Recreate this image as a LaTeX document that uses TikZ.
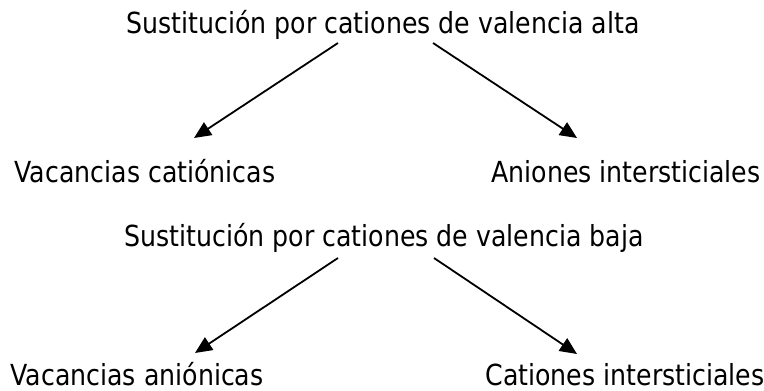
\documentclass[tikz,border=0pt]{standalone}
\usepackage{fontspec}
\setmainfont[FakeStretch=0.87]{DejaVu Sans}
\usetikzlibrary{arrows.meta}
\begin{document}
\begin{tikzpicture}[x=1pt,y=-1pt,>={Triangle[length=17pt,width=15pt]},line join=round,line width=1.8pt,font=\fontsize{29}{34}\selectfont]
				\useasboundingbox (0,0) rectangle (764,391);
				\tikzset{txt/.style={anchor=base,inner sep=0pt}}
				\path
				(383,33) node[txt] (alta) {Sustitución por cationes de valencia alta}
				(145,182) node[txt] (vc) {Vacancias catiónicas}
				(626,182) node[txt] (ai) {Aniones intersticiales}
				(384,246) node[txt] (baja) {Sustitución por cationes de valencia baja}
				(137,385) node[txt] (va) {Vacancias aniónicas}
				(625,385) node[txt] (ci) {Cationes intersticiales}
				;
				\path
				(338,43) coordinate (A1) (194,138) coordinate (B1)
				(433,43) coordinate (A2) (577,138) coordinate (B2)
				(338,258) coordinate (A3) (195,353) coordinate (B3)
				(434,258) coordinate (A4) (577,354) coordinate (B4)
				;
				\foreach \s/\t in {A1/B1,A2/B2,A3/B3,A4/B4}\draw[->] (\s)--(\t);
			\end{tikzpicture}
\end{document}
